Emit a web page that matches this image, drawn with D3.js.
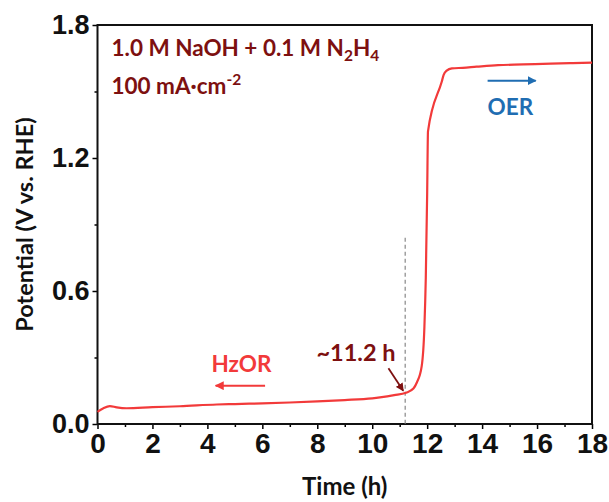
<!DOCTYPE html>
<html>
<head>
<meta charset="utf-8">
<script src="https://cdn.jsdelivr.net/npm/d3@7"></script>
<style>
    body { margin: 0; background: #fff; }
    #chart { width: 609px; height: 502px; }
    .tick text { font-family: "Liberation Sans Narrow", "Arial Narrow", sans-serif; font-weight: bold; fill: #111; }
    .lbl { font-family: Lato, "Open Sans", sans-serif; font-weight: bold; }
</style>
</head>
<body>
<div id="chart"></div>
<script>
//Datos
const timeH = [0, 0.2, 0.45, 0.7, 1.06, 2, 3, 4.34, 5, 6, 7, 8, 9, 10, 10.28, 10.8, 11.23, 11.5, 11.62, 11.8, 11.9, 11.95, 12.0, 12.03, 12.53, 12.6, 12.71, 12.9, 13.3, 13.8, 14.58, 15.5, 16.5, 17.3, 18];
const potential = [0.055, 0.07, 0.081, 0.075, 0.071, 0.076, 0.08, 0.088, 0.09, 0.093, 0.097, 0.102, 0.108, 0.116, 0.12, 0.13, 0.141, 0.16, 0.186, 0.26, 0.44, 0.66, 1.04, 1.32, 1.544, 1.575, 1.594, 1.604, 1.607, 1.612, 1.619, 1.622, 1.626, 1.628, 1.63];
const xTicks = [0, 2, 4, 6, 8, 10, 12, 14, 16, 18];
const xMinor = [1, 3, 5, 7, 9, 11, 13, 15, 17];
const yTicks = [0.0, 0.6, 1.2, 1.8];
const yMinor = [0.3, 0.9, 1.5];
const switchTime = 11.2, switchTop = 0.84;

//Colores
const COLOR_CURVE = '#f23a3a',
COLOR_DARK = '#7d1010',
COLOR_OER = '#1f6db2';

let margin = {top: 25, right: 17, bottom: 78, left: 97.5},
    width = 609 - margin.left - margin.right,
    height = 502 - margin.top - margin.bottom;

let root = d3.select('#chart').append('svg')
    .attr('width', 609).attr('height', 502);

let defs = root.append('defs');
function arrowMarker(id, color) {
    defs.append('marker')
        .attr('id', id)
        .attr('viewBox', '0 0 10 10')
        .attr('refX', 9).attr('refY', 5)
        .attr('markerWidth', 4.5).attr('markerHeight', 4.5)
        .attr('orient', 'auto')
        .append('path')
        .attr('d', 'M0,0 L10,5 L0,10 z')
        .attr('fill', color);
}
arrowMarker('arr-red', COLOR_CURVE);
arrowMarker('arr-blue', COLOR_OER);
arrowMarker('arr-dark', COLOR_DARK);

let svg = root.append('g')
    .attr('transform', 'translate(' + margin.left + ',' + margin.top + ')');

let x = d3.scaleLinear().domain([0, 18]).range([0, width]);
let y = d3.scaleLinear().domain([0, 1.8]).range([height, 0]);

//Ejes menores
svg.append('g')
    .attr('transform', 'translate(0,' + height + ')')
    .call(d3.axisBottom(x).tickValues(xMinor).tickSize(3).tickFormat(''))
    .call(function(g){ g.select('.domain').remove(); })
    .selectAll('line').attr('stroke-width', 1.5);
svg.append('g')
    .call(d3.axisLeft(y).tickValues(yMinor).tickSize(3).tickFormat(''))
    .call(function(g){ g.select('.domain').remove(); })
    .selectAll('line').attr('stroke-width', 1.5);

//Ejes principales
let xAxis = svg.append('g')
    .attr('transform', 'translate(0,' + height + ')')
    .call(d3.axisBottom(x).tickValues(xTicks).tickSize(5).tickPadding(3).tickFormat(d3.format('d')));
xAxis.select('.domain').remove();
xAxis.selectAll('line').attr('stroke-width', 1.5);
xAxis.selectAll('text').attr('font-size', 28).attr('dy', '0.75em');

let yAxis = svg.append('g')
    .call(d3.axisLeft(y).tickValues(yTicks).tickSize(5).tickPadding(3).tickFormat(d3.format('.1f')));
yAxis.select('.domain').remove();
yAxis.selectAll('line').attr('stroke-width', 1.5);
yAxis.selectAll('text').attr('font-size', 27);

//Marco
svg.append('rect')
    .attr('x', 0).attr('y', 0)
    .attr('width', width).attr('height', height)
    .attr('fill', 'none')
    .attr('stroke', '#111')
    .attr('stroke-width', 2);

//Línea discontinua
svg.append('line')
    .attr('x1', x(switchTime)).attr('x2', x(switchTime))
    .attr('y1', y(switchTop)).attr('y2', y(0))
    .attr('stroke', '#888')
    .attr('stroke-width', 1.2)
    .attr('stroke-dasharray', '4,3');

//Curva
let line = d3.line()
    .x(function(d, i) { return x(timeH[i]); })
    .y(function(d) { return y(d); })
    .curve(d3.curveMonotoneX);

svg.append('path')
    .datum(potential)
    .attr('d', line)
    .attr('fill', 'none')
    .attr('stroke', COLOR_CURVE)
    .attr('stroke-width', 2.2);

//Anotaciones
let cond = svg.append('text').attr('class', 'lbl')
    .attr('x', x(0.51)).attr('y', y(1.66))
    .attr('font-size', 22.5).attr('fill', COLOR_DARK);
cond.append('tspan').text('1.0 M NaOH + 0.1 M N');
cond.append('tspan').attr('font-size', 15.5).attr('dy', 5).text('2');
cond.append('tspan').attr('dy', -5).text('H');
cond.append('tspan').attr('font-size', 15.5).attr('dy', 5).text('4');

let dens = svg.append('text').attr('class', 'lbl')
    .attr('x', x(0.51)).attr('y', y(1.49))
    .attr('font-size', 22.5).attr('fill', COLOR_DARK);
dens.append('tspan').text('100 mA·cm');
dens.append('tspan').attr('font-size', 15.5).attr('dy', -9).text('-2');

svg.append('line')
    .attr('x1', x(14.2)).attr('x2', x(15.95))
    .attr('y1', y(1.549)).attr('y2', y(1.549))
    .attr('stroke', COLOR_OER).attr('stroke-width', 2)
    .attr('marker-end', 'url(#arr-blue)');
svg.append('text').attr('class', 'lbl')
    .attr('x', x(15.03)).attr('y', y(1.394))
    .attr('text-anchor', 'middle')
    .attr('font-size', 22.5).attr('fill', COLOR_OER)
    .text('OER');

svg.append('line')
    .attr('x1', x(6.1)).attr('x2', x(4.3))
    .attr('y1', y(0.173)).attr('y2', y(0.173))
    .attr('stroke', COLOR_CURVE).attr('stroke-width', 2)
    .attr('marker-end', 'url(#arr-red)');
svg.append('text').attr('class', 'lbl')
    .attr('x', x(5.24)).attr('y', y(0.236))
    .attr('text-anchor', 'middle')
    .attr('font-size', 22.5).attr('fill', COLOR_CURVE)
    .text('HzOR');

svg.append('text').attr('class', 'lbl')
    .attr('x', x(10.85)).attr('y', y(0.285))
    .attr('text-anchor', 'end')
    .attr('font-size', 23.5).attr('fill', COLOR_DARK)
    .text('~11.2 h');
svg.append('line')
    .attr('x1', x(10.59)).attr('x2', x(11.13))
    .attr('y1', y(0.251)).attr('y2', y(0.15))
    .attr('stroke', COLOR_DARK).attr('stroke-width', 1.8)
    .attr('marker-end', 'url(#arr-dark)');

//Títulos de ejes
svg.append('text').attr('class', 'lbl')
    .attr('x', width / 2).attr('y', height + 71)
    .attr('text-anchor', 'middle')
    .attr('font-size', 24).attr('fill', '#111')
    .text('Time (h)');

svg.append('text').attr('class', 'lbl')
    .attr('transform', 'translate(' + (-64.5) + ',' + (height / 2) + ') rotate(-90)')
    .attr('text-anchor', 'middle')
    .attr('font-size', 23.5).attr('fill', '#111')
    .text('Potential (V vs. RHE)');
</script>
</body>
</html>
